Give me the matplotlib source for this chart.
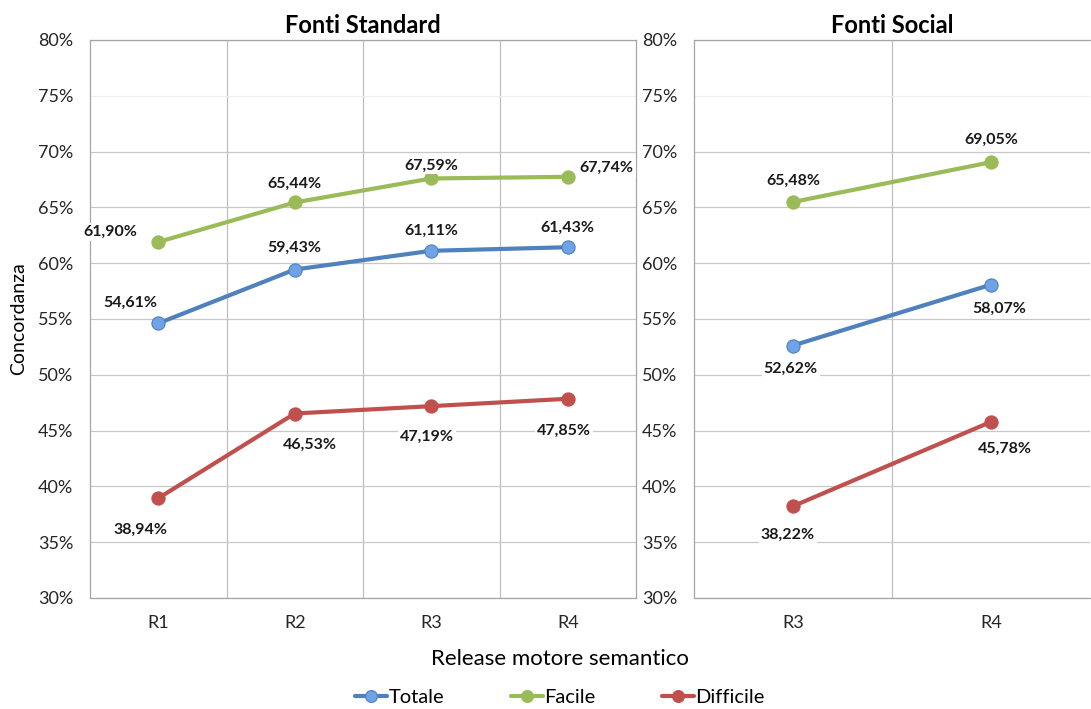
import matplotlib.pyplot as plt
from matplotlib.ticker import FuncFormatter

plt.rcParams['font.family'] = ['Lato', 'DejaVu Sans']

# dati
rel_std = ["R1", "R2", "R3", "R4"]
totale_std = [54.61, 59.43, 61.11, 61.43]
facile_std = [61.90, 65.44, 67.59, 67.74]
difficile_std = [38.94, 46.53, 47.19, 47.85]

rel_soc = ["R3", "R4"]
totale_soc = [52.62, 58.07]
facile_soc = [65.48, 69.05]
difficile_soc = [38.22, 45.78]

serie = ["Totale", "Facile", "Difficile"]
colori = {"Totale": "#4f81bd", "Facile": "#9bbb59", "Difficile": "#c0504d"}
facce = {"Totale": "#6fa2e6", "Facile": "#9bbb59", "Difficile": "#c0504d"}

# spostamento etichette (pixel)
off_std = {
    "Totale": [(-28, 21), (0, 22), (0, 20), (0, 19)],
    "Facile": [(-48, 10), (0, 19), (0, 13), (39, 9)],
    "Difficile": [(-18, -32), (15, -31), (-4, -31), (-4, -32)],
}
off_soc = {
    "Totale": [(-2, -23), (8, -24)],
    "Facile": [(0, 21), (0, 22)],
    "Difficile": [(-5, -29), (14, -27)],
}

fig = plt.figure(figsize=(10.91, 7.09), dpi=100)
ax1 = fig.add_axes([0.0825, 0.1566, 0.5005, 0.787])
ax2 = fig.add_axes([0.636, 0.1566, 0.363, 0.787])


def disegna(ax, cats, dati, offs, titolo):
    x = range(len(cats))
    for nome, vals in zip(serie, dati):
        ax.plot(x, vals, color=colori[nome], lw=3, marker="o", ms=9.5,
                mfc=facce[nome], mec=colori[nome], mew=0.8, zorder=3,
                label=nome, solid_capstyle="round")
        for i, v in enumerate(vals):
            ax.annotate(f"{v:.2f}%".replace(".", ","), (i, v),
                        xytext=offs[nome][i], textcoords="offset pixels",
                        ha="center", va="center", fontsize=11.5,
                        fontweight="bold", color="#1a1a1a", zorder=4,
                        bbox=dict(boxstyle="square,pad=0.12", fc="white",
                                  ec="none"))
    ax.set_xlim(-0.5, len(cats) - 0.5)
    ax.set_ylim(30, 80)
    ax.set_yticks(range(30, 81, 5))
    ax.yaxis.set_major_formatter(FuncFormatter(lambda v, p: f"{v:.0f}%"))
    ax.set_xticks(list(x))
    ax.set_xticklabels(cats)
    ax.set_xticks([i + 0.5 for i in range(len(cats) - 1)], minor=True)
    ax.grid(True, which="minor", axis="x", color="#bfbfbf", lw=0.9)
    ax.grid(True, which="major", axis="y", color="#c8c8c8", lw=0.9)
    for g, t in zip(ax.get_ygridlines(), ax.get_yticks()):
        if t == 75:
            g.set_color("#efefef")
    ax.tick_params(which="both", length=0, labelsize=13, colors="#262626")
    ax.tick_params(axis="x", pad=12)
    ax.tick_params(axis="y", pad=12)
    for s in ax.spines.values():
        s.set_color("#a6a6a6")
        s.set_linewidth(0.9)
    ax.set_axisbelow(True)
    ax.set_title(titolo, fontsize=17, fontweight="bold", pad=5)


disegna(ax1, rel_std, [totale_std, facile_std, difficile_std], off_std,
        "Fonti Standard")
disegna(ax2, rel_soc, [totale_soc, facile_soc, difficile_soc], off_soc,
        "Fonti Social")
ax2.spines["right"].set_visible(False)

ax1.set_ylabel("Concordanza", fontsize=14, labelpad=8)
fig.text(0.513, 0.07, "Release motore semantico", ha="center", va="center",
         fontsize=16)

h, l = ax1.get_legend_handles_labels()
fig.legend(h, l, loc="center", bbox_to_anchor=(0.513, 0.016), ncol=3,
           frameon=False, fontsize=14.5, handlelength=1.6, handletextpad=0.05,
           columnspacing=3.3, markerscale=0.9)

fig.savefig("out.png", dpi=100)
